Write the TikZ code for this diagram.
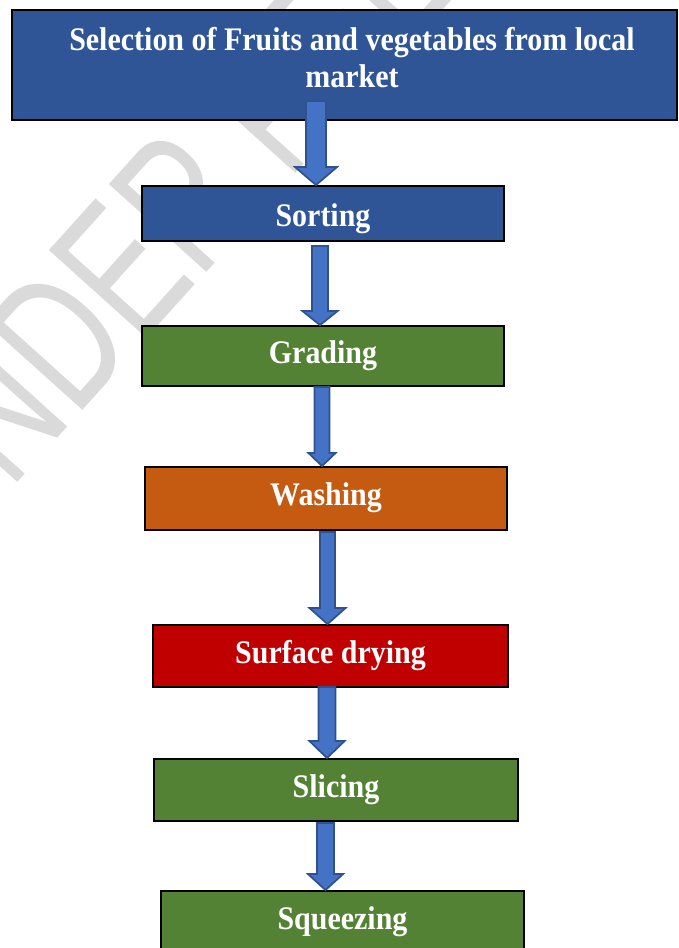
\documentclass[tikz,border=0pt]{standalone}
\usepackage{fontspec}
\setmainfont{Liberation Serif}
\newfontfamily\boxfont{Liberation Serif}[FakeStretch=0.91]
\newfontfamily\wmfont{Liberation Sans}[FakeStretch=0.7]
\usetikzlibrary{calc}
\definecolor{boxblue}{HTML}{2F5597}
\definecolor{boxgreen}{HTML}{548235}
\definecolor{boxorange}{HTML}{C55A11}
\definecolor{boxred}{HTML}{C00000}
\definecolor{arrfill}{HTML}{4472C4}
\definecolor{arrline}{HTML}{2F528F}
\definecolor{wmgray}{HTML}{DADADA}
% #1 start, #2 tip, #3 shaft half width, #4 head half width, #5 head length (px)
\newcommand\blockarrow[5]{%
  \filldraw[arrowst] ($(#1)+(-#3,0)$) -- ($(#1)+(#3,0)$) -- ($(#2)+(#3,-#5)$)
    -- ($(#2)+(#4,-#5)$) -- (#2) -- ($(#2)+(-#4,-#5)$) -- ($(#2)+(-#3,-#5)$) -- cycle;}
\begin{document}
\begin{tikzpicture}[x=0.75pt,y=-0.75pt,
  box/.style={draw=black,line width=1.4pt,inner sep=0pt,text=white,
    font=\boxfont\bfseries\fontsize{24.7}{27.75}\selectfont,align=center,
    text height=17pt,text depth=6.5pt},
  boxtext/.style={text=white,inner sep=0pt,
    font=\boxfont\bfseries\fontsize{24.7}{27.75}\selectfont,align=center},
  arrowst/.style={fill=arrfill,draw=arrline,line width=1.3pt,line join=miter},
  wm/.style={text=wmgray,inner sep=0pt,font=\wmfont\fontsize{143}{143}\selectfont}]
\useasboundingbox (0,0) rectangle (678,948);
\fill[white] (0,0) rectangle (678,948);
% watermark
\node[wm,rotate=48,anchor=base west] (wmark) at (-54,562) {UNDER PEER REVIEW};
% boxes
\node[box,fill=boxblue,minimum width=498.75pt,minimum height=82.5pt] (top) at (344.5,65) {};
\node[boxtext] (toptext) at (352,57.5) {Selection of Fruits and vegetables from local\\market};
\node[box,fill=boxblue,minimum width=271.5pt,minimum height=41.25pt,text height=18.8pt,text depth=0pt] (sort) at (323,213.5) {Sorting};
\node[box,fill=boxgreen,minimum width=271.5pt,minimum height=45pt] (grad) at (323,356) {Grading};
\node[box,fill=boxorange,minimum width=271.5pt,minimum height=47.25pt] (wash) at (326,498.5) {Washing};
\node[box,fill=boxred,minimum width=266.25pt,minimum height=46.5pt] (surf) at (330.5,656) {Surface drying};
\node[box,fill=boxgreen,minimum width=273pt,minimum height=46.5pt] (slic) at (336,790) {Slicing};
\node[box,fill=boxgreen,minimum width=272.25pt,minimum height=44.25pt,text depth=2.8pt] (squ) at (342.5,920.5) {Squeezing};
% arrows
\coordinate (a1s) at (316,101);
\coordinate (a2s) at (320,246);
\coordinate (a3s) at (322,387);
\coordinate (a4s) at (327.5,532);
\coordinate (a5s) at (327,687);
\coordinate (a6s) at (325.5,823);
\blockarrow{a1s}{a1s |- sort.north}{10}{21}{18}
\blockarrow{a2s}{a2s |- grad.north}{8}{17.5}{14}
\blockarrow{a3s}{a3s |- wash.north}{7.5}{13.5}{13}
\blockarrow{a4s}{a4s |- surf.north}{7.5}{18}{16}
\blockarrow{a5s}{a5s |- slic.north}{8.5}{17.5}{17}
\blockarrow{a6s}{a6s |- squ.north}{8.5}{17.5}{16}
\end{tikzpicture}
\end{document}
